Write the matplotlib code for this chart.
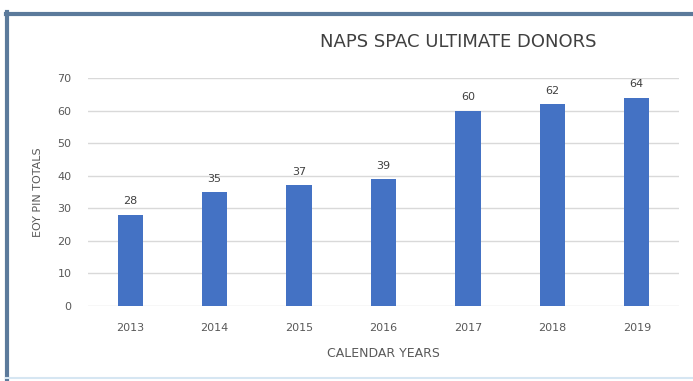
import matplotlib.pyplot as plt
from matplotlib.lines import Line2D

years = ['2013', '2014', '2015', '2016', '2017', '2018', '2019']
totals = [28, 35, 37, 39, 60, 62, 64]

W, H = 693, 381
fig = plt.figure(figsize=(W / 100, H / 100), dpi=100)
fig.patch.set_facecolor('white')

ax = fig.add_axes([88 / W, 1 - 306 / H, (679 - 88) / W, (306 - 78) / H])
bars = ax.bar(range(len(years)), totals, width=0.3, color='#4472C4', zorder=3)

ax.set_xlim(-0.5, len(years) - 0.5)
ax.set_ylim(0, 70)
ax.set_yticks(range(0, 71, 10))
ax.set_xticks(range(len(years)))
ax.set_xticklabels(years)
ax.grid(axis='y', color='#D9D9D9', linewidth=1, zorder=0)
for s in ax.spines.values():
    s.set_visible(False)
ax.tick_params(length=0, colors='#595959', labelsize=8)
ax.tick_params(axis='y', pad=12)
ax.tick_params(axis='x', pad=12)

# value labels
for b, v in zip(bars, totals):
    ax.annotate(str(v), (b.get_x() + b.get_width() / 2, v), xytext=(0, 6),
                textcoords='offset points', ha='center', va='bottom',
                fontsize=8, color='#404040')

ax.set_ylabel('EOY PIN TOTALS', fontsize=8, color='#595959', labelpad=10)
ax.set_xlabel('CALENDAR YEARS', fontsize=9, color='#595959', labelpad=10)
fig.text(458 / W, 1 - 42 / H, 'NAPS SPAC ULTIMATE DONORS', ha='center', va='center',
         fontsize=13, color='#404040')

# outer frame
fig.add_artist(Line2D([6 / W, 1], [1 - 13.5 / H] * 2, transform=fig.transFigure,
                      color='#5B7A9B', linewidth=3))
fig.add_artist(Line2D([6.5 / W] * 2, [0, 1 - 12 / H], transform=fig.transFigure,
                      color='#5B7A9B', linewidth=3))
fig.add_artist(Line2D([6 / W, 1], [1 - 378 / H] * 2, transform=fig.transFigure,
                      color='#D6E6F2', linewidth=1.5))

fig.savefig('out.png', dpi=100)
